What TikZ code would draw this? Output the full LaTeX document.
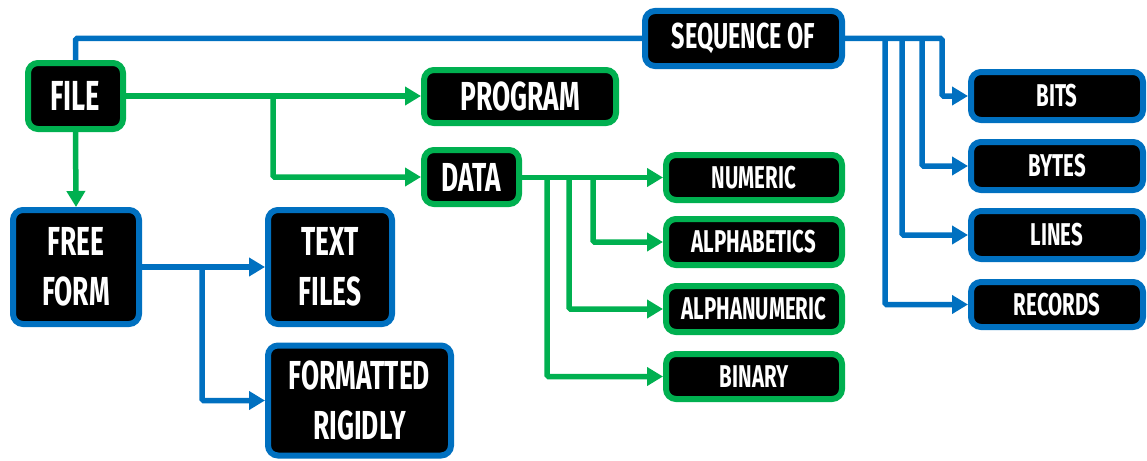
\documentclass[tikz,border=0pt]{standalone}
\usepackage{fontspec}
\setmainfont{Fira Sans}[FakeStretch=0.65]
\usetikzlibrary{arrows.meta}
\definecolor{fgreen}{HTML}{00B050}
\definecolor{fblue}{HTML}{0070C0}
\tikzset{
  box/.style={fill=black, line width=6pt, rounded corners=10pt, text=white,
    align=center, inner sep=0pt},
  gbox/.style={box, draw=fgreen},
  bbox/.style={box, draw=fblue},
  big/.style={font=\bfseries\fontsize{42}{50}\selectfont},
  mid/.style={font=\bfseries\fontsize{40.5}{50}\selectfont},
  seqf/.style={font=\bfseries\fontsize{36}{44}\selectfont},
  small/.style={font=\bfseries\fontsize{31.5}{38}\selectfont},
  link/.style={line width=5.5pt, rounded corners=1.5pt},
  tip/.style={-{Triangle[length=16pt,width=18pt]}},
  gline/.style={link, draw=fgreen},
  bline/.style={link, draw=fblue},
  garrow/.style={gline, tip},
  barrow/.style={bline, tip},
}
\begin{document}
\begin{tikzpicture}[x=1pt,y=-1pt]
\useasboundingbox (0,0) rectangle (1147,460);

% top row
\node[gbox,big,minimum width=95pt,minimum height=66pt] (file) at (75.5,96) {FILE};
\node[bbox,seqf,minimum width=197pt,minimum height=55pt] (seq) at (743.5,38.5) {SEQUENCE OF};
\node[gbox,mid,minimum width=192pt,minimum height=53pt] (program) at (520,96.5) {PROGRAM};
\node[gbox,mid,minimum width=95pt,minimum height=54pt] (data) at (471.5,177) {DATA};

% kinds of data
\node[gbox,small,minimum width=176pt,minimum height=45pt] (numeric) at (754,177.5) {NUMERIC};
\node[gbox,small,minimum width=176pt,minimum height=46pt] (alphab) at (754,242) {ALPHABETICS};
\node[gbox,small,minimum width=176pt,minimum height=46pt] (alphanum) at (754,309) {ALPHANUMERIC};
\node[gbox,small,minimum width=176pt,minimum height=45pt] (binary) at (754,376.5) {BINARY};

% units of a sequence
\node[bbox,small,minimum width=172pt,minimum height=48pt] (bits) at (1057,96) {BITS};
\node[bbox,small,minimum width=172pt,minimum height=48pt] (bytes) at (1057,166) {BYTES};
\node[bbox,small,minimum width=172pt,minimum height=48pt] (lines) at (1057,235) {LINES};
\node[bbox,small,minimum width=172pt,minimum height=45pt] (records) at (1057,304.5) {RECORDS};

% free form files
\node[bbox,mid,minimum width=126pt,minimum height=114pt] (free) at (76,267) {FREE\\FORM};
\node[bbox,mid,minimum width=124pt,minimum height=114pt] (text) at (330,267) {TEXT\\FILES};
\node[bbox,mid,minimum width=183pt,minimum height=110pt] (fmt) at (359.5,400.5) {FORMATTED\\RIGIDLY};

% junction points
\coordinate (fj) at (273,96);
\coordinate (dj1) at (593,177.5);
\coordinate (dj2) at (569,177.5);
\coordinate (dj3) at (547,177.5);
\coordinate (sj1) at (942,38.5);
\coordinate (sj2) at (922,38.5);
\coordinate (sj3) at (902,38.5);
\coordinate (sj4) at (885,38.5);
\coordinate (ffj) at (202,267);

% connectors
\draw[bline] (file.north) |- (seq.west);
\draw[garrow] (file.east) -- (file.east -| program.west);
\draw[garrow] (fj) |- (data.west);
\draw[garrow] (file.south) -- (free.north);

\draw[garrow] (data.east |- numeric.west) -- (numeric.west);
\draw[garrow] (dj1) |- (alphab.west);
\draw[garrow] (dj2) |- (alphanum.west);
\draw[garrow] (dj3) |- (binary.west);

\draw[barrow] (seq.east) -- (sj1) |- (bits.west);
\draw[barrow] (sj2) |- (bytes.west);
\draw[barrow] (sj3) |- (lines.west);
\draw[barrow] (sj4) |- (records.west);

\draw[barrow] (free.east) -- (text.west);
\draw[barrow] (ffj) |- (fmt.west);
\end{tikzpicture}
\end{document}
